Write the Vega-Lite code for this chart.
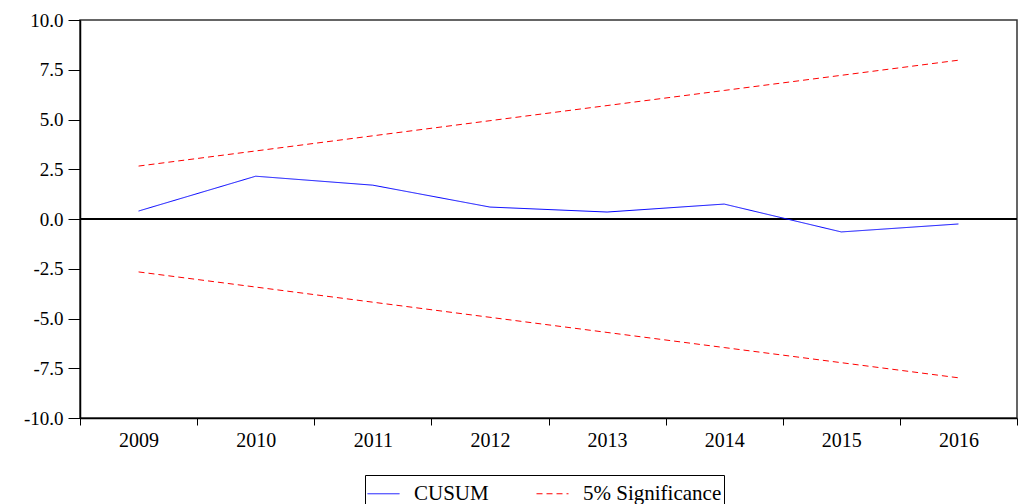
{
  "$schema": "https://vega.github.io/schema/vega-lite/v6.json",
  "width": 937,
  "height": 398,
  "autosize": "none",
  "padding": {"left": 80, "top": 20, "right": 6, "bottom": 86},
  "background": "white",
  "config": {
    "font": "Liberation Serif",
    "view": {"stroke": "#333333", "strokeWidth": 1.5},
    "axis": {"labelFont": "Liberation Serif", "labelColor": "black", "domainColor": "black", "tickColor": "black", "grid": false, "titleFont": "Liberation Serif"}
  },
  "data": {
    "values": [
      {"year": "2009", "line": "CUSUM", "series": "CUSUM", "value": 0.4},
      {"year": "2010", "line": "CUSUM", "series": "CUSUM", "value": 2.15},
      {"year": "2011", "line": "CUSUM", "series": "CUSUM", "value": 1.7},
      {"year": "2012", "line": "CUSUM", "series": "CUSUM", "value": 0.6},
      {"year": "2013", "line": "CUSUM", "series": "CUSUM", "value": 0.35},
      {"year": "2014", "line": "CUSUM", "series": "CUSUM", "value": 0.75},
      {"year": "2015", "line": "CUSUM", "series": "CUSUM", "value": -0.65},
      {"year": "2016", "line": "CUSUM", "series": "CUSUM", "value": -0.25},
      {"year": "2009", "line": "Upper", "series": "5% Significance", "value": 2.66},
      {"year": "2010", "line": "Upper", "series": "5% Significance", "value": 3.42},
      {"year": "2011", "line": "Upper", "series": "5% Significance", "value": 4.18},
      {"year": "2012", "line": "Upper", "series": "5% Significance", "value": 4.94},
      {"year": "2013", "line": "Upper", "series": "5% Significance", "value": 5.70},
      {"year": "2014", "line": "Upper", "series": "5% Significance", "value": 6.46},
      {"year": "2015", "line": "Upper", "series": "5% Significance", "value": 7.22},
      {"year": "2016", "line": "Upper", "series": "5% Significance", "value": 7.98},
      {"year": "2009", "line": "Lower", "series": "5% Significance", "value": -2.66},
      {"year": "2010", "line": "Lower", "series": "5% Significance", "value": -3.42},
      {"year": "2011", "line": "Lower", "series": "5% Significance", "value": -4.18},
      {"year": "2012", "line": "Lower", "series": "5% Significance", "value": -4.94},
      {"year": "2013", "line": "Lower", "series": "5% Significance", "value": -5.70},
      {"year": "2014", "line": "Lower", "series": "5% Significance", "value": -6.46},
      {"year": "2015", "line": "Lower", "series": "5% Significance", "value": -7.22},
      {"year": "2016", "line": "Lower", "series": "5% Significance", "value": -7.98}
    ]
  },
  "layer": [
    {
      "mark": {"type": "rule", "color": "black", "strokeWidth": 1},
      "encoding": {"y": {"datum": 0, "type": "quantitative", "scale": {"domain": [-10, 10]}}}
    },
    {
      "mark": {"type": "line", "strokeWidth": 1},
      "encoding": {
        "x": {
          "field": "year", "type": "ordinal", "bandPosition": 0.5,
          "scale": {"type": "band", "paddingInner": 0, "paddingOuter": 0},
          "axis": {"title": null, "labelAngle": 0, "labelFontSize": 20, "tickBand": "extent", "tickSize": 7, "labelPadding": 5, "domainWidth": 1.5}
        },
        "y": {
          "field": "value", "type": "quantitative",
          "scale": {"domain": [-10, 10], "nice": false, "zero": false},
          "axis": {"title": null, "values": [-10, -7.5, -5, -2.5, 0, 2.5, 5, 7.5, 10], "format": ".1f", "labelExpr": "replace(datum.label, '\u2212', '-')", "labelFontSize": 19, "tickSize": 12, "labelPadding": 5, "domainWidth": 1.5, "labelFlush": false}
        },
        "detail": {"field": "line"},
        "color": {
          "field": "series", "type": "nominal",
          "scale": {"domain": ["CUSUM", "5% Significance"], "range": ["#0000FF", "#FF0000"]},
          "legend": {
            "title": null, "orient": "none", "direction": "horizontal", "columns": 2,
            "legendX": 285, "legendY": 455,
            "strokeColor": "black", "padding": 2, "fillColor": "white",
            "symbolType": "stroke", "symbolSize": 1024, "symbolStrokeWidth": 1,
            "labelFont": "Liberation Serif", "labelFontSize": 21, "labelColor": "black",
            "columnPadding": 45, "labelOffset": 14, "symbolOpacity": 1
          }
        },
        "strokeDash": {
          "field": "series", "type": "nominal",
          "scale": {"domain": ["CUSUM", "5% Significance"], "range": [[1, 0], [6, 4]]},
          "legend": null
        }
      }
    }
  ]
}
